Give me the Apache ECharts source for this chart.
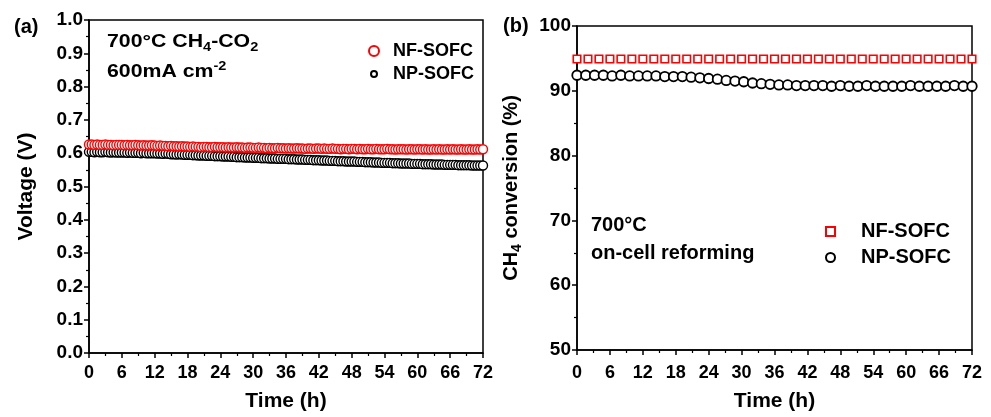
<!DOCTYPE html>
<html><head><meta charset="utf-8">
<script src="https://cdn.jsdelivr.net/npm/echarts@6/dist/echarts.min.js"></script>
<style>html,body{margin:0;padding:0;background:#fff}#c{width:991px;height:417px}</style>
</head><body><div id="c"></div>
<script>
// ---------- data ----------
const seriesNames = ['NF-SOFC', 'NP-SOFC'];
const voltageStepH = 0.5; // sampling interval of panel (a), hours
const voltageNF = [
0.626,0.626,0.625,0.626,0.625,0.625,0.626,0.625,0.625,0.624,0.625,0.625,
0.625,0.624,0.625,0.624,0.624,0.625,0.624,0.623,0.624,0.623,0.623,0.624,
0.623,0.622,0.623,0.622,0.622,0.621,0.622,0.621,0.621,0.620,0.621,0.620,
0.620,0.619,0.620,0.619,0.619,0.618,0.619,0.619,0.618,0.618,0.619,0.618,
0.618,0.618,0.617,0.618,0.617,0.617,0.618,0.617,0.617,0.616,0.617,0.617,
0.616,0.616,0.617,0.616,0.616,0.615,0.616,0.615,0.615,0.616,0.615,0.615,
0.614,0.615,0.614,0.614,0.615,0.614,0.614,0.613,0.614,0.614,0.613,0.614,
0.614,0.613,0.614,0.613,0.613,0.614,0.613,0.613,0.612,0.613,0.613,0.612,
0.613,0.613,0.612,0.613,0.612,0.612,0.613,0.612,0.612,0.613,0.612,0.612,
0.612,0.613,0.612,0.612,0.611,0.612,0.612,0.612,0.611,0.612,0.612,0.611,
0.612,0.612,0.611,0.612,0.611,0.611,0.612,0.611,0.612,0.611,0.611,0.612,
0.611,0.612,0.611,0.611,0.612,0.611,0.611,0.612,0.611,0.611,0.612,0.611,
0.612];
const voltageNP = [
0.604,0.604,0.603,0.604,0.603,0.603,0.604,0.603,0.602,0.603,0.602,0.602,
0.602,0.602,0.601,0.602,0.601,0.601,0.601,0.600,0.601,0.600,0.600,0.600,
0.600,0.599,0.599,0.598,0.599,0.598,0.597,0.597,0.596,0.597,0.596,0.595,
0.595,0.595,0.594,0.594,0.593,0.593,0.593,0.592,0.592,0.592,0.591,0.591,
0.591,0.590,0.590,0.590,0.589,0.589,0.588,0.588,0.588,0.587,0.587,0.587,
0.586,0.586,0.586,0.585,0.585,0.585,0.584,0.584,0.584,0.583,0.583,0.583,
0.583,0.582,0.582,0.582,0.581,0.581,0.581,0.580,0.580,0.580,0.579,0.579,
0.579,0.578,0.578,0.578,0.577,0.577,0.577,0.576,0.576,0.576,0.575,0.575,
0.575,0.575,0.574,0.574,0.574,0.573,0.573,0.573,0.572,0.572,0.572,0.571,
0.571,0.571,0.571,0.570,0.570,0.570,0.569,0.569,0.569,0.569,0.568,0.568,
0.568,0.568,0.567,0.567,0.567,0.567,0.566,0.566,0.566,0.566,0.565,0.565,
0.565,0.565,0.565,0.564,0.564,0.564,0.564,0.564,0.563,0.563,0.563,0.563,
0.563];
const convNFStepH = 2;   // panel (b) squares sampling interval, hours
const conversionNF = [
94.9,94.9,94.9,94.9,94.9,94.9,94.9,94.9,94.9,94.9,94.9,94.9,94.9,
94.9,94.9,94.9,94.9,94.9,94.9,94.9,94.9,94.9,94.9,94.9,94.9,94.9,
94.9,94.9,94.9,94.9,94.9,94.9,94.9,94.9,94.9,94.9,94.9];
const convNPStepH = 1.6; // panel (b) circles sampling interval, hours
const conversionNP = [
92.4,92.4,92.4,92.4,92.3,92.4,92.3,92.3,92.3,92.3,92.2,92.2,92.2,92.1,
92.0,91.9,91.8,91.6,91.5,91.4,91.2,91.1,91.0,90.9,90.9,90.8,90.8,90.8,
90.8,90.7,90.8,90.7,90.7,90.8,90.7,90.7,90.7,90.7,90.8,90.7,90.7,90.7,
90.7,90.8,90.7,90.7];

// ---------- build ----------
const F = "'Liberation Sans', Arial, Helvetica, sans-serif";
const pairs = (arr, step) => arr.map((v, i) => [+(i * step).toFixed(2), v]);

function xAxisFor(grid, labelMargin, nameGap) {
  return {
    type: 'value', gridIndex: grid, min: 0, max: 72, interval: 6,
    axisLine: { lineStyle: { color: '#000', width: 1.5 } },
    axisTick: { show: true, length: 5, lineStyle: { color: '#000', width: 1.5 } },
    minorTick: { show: true, splitNumber: 2, length: 3, lineStyle: { color: '#000', width: 1.2 } },
    splitLine: { show: false },
    axisLabel: { color: '#000', fontFamily: F, fontWeight: 'bold', fontSize: 18, margin: labelMargin },
    name: 'Time (h)', nameLocation: 'middle', nameGap: nameGap,
    nameTextStyle: { color: '#000', fontFamily: F, fontWeight: 'bold', fontSize: 21 }
  };
}
const legendText = (size, pad) => ({ color: '#000', fontFamily: F, fontWeight: 'bold', fontSize: size, lineHeight: 20, padding: [0, 0, 0, pad] });

const chart = echarts.init(document.getElementById('c'), null, { renderer: 'canvas' });
const option = {
  animation: false,
  backgroundColor: '#fff',
  grid: [
    { left: 89, right: 508, top: 20, bottom: 64, show: true, borderColor: '#000', borderWidth: 1.5, backgroundColor: 'transparent' },
    { left: 577, right: 19, top: 26, bottom: 57, show: true, borderColor: '#000', borderWidth: 1.5, backgroundColor: 'transparent' }
  ],
  xAxis: [xAxisFor(0, 11, 38), xAxisFor(1, 14, 41)],
  yAxis: [
    {
      type: 'value', gridIndex: 0, min: 0, max: 1, interval: 0.1,
      axisLine: { show: true, lineStyle: { color: '#000', width: 1.5 } },
      axisTick: { show: true, length: 5, lineStyle: { color: '#000', width: 1.5 } },
      minorTick: { show: true, splitNumber: 2, length: 3, lineStyle: { color: '#000', width: 1.2 } },
      splitLine: { show: false },
      axisLabel: { color: '#000', fontFamily: F, fontWeight: 'bold', fontSize: 19, margin: 6, formatter: v => v.toFixed(1) },
      name: 'Voltage (V)', nameLocation: 'middle', nameGap: 52,
      nameTextStyle: { color: '#000', fontFamily: F, fontWeight: 'bold', fontSize: 21 }
    },
    {
      type: 'value', gridIndex: 1, min: 50, max: 100, interval: 10,
      axisLine: { show: true, lineStyle: { color: '#000', width: 1.5 } },
      axisTick: { show: true, length: 5, lineStyle: { color: '#000', width: 1.5 } },
      minorTick: { show: true, splitNumber: 2, length: 3, lineStyle: { color: '#000', width: 1.2 } },
      splitLine: { show: false },
      axisLabel: { color: '#000', fontFamily: F, fontWeight: 'bold', fontSize: 19, margin: 6 },
      name: 'CH{s|4} conversion (%)', nameLocation: 'middle', nameGap: 53,
      nameTextStyle: { color: '#000', fontFamily: F, fontWeight: 'bold', fontSize: 20,
        rich: { s: { fontFamily: F, fontWeight: 'bold', fontSize: 14, color: '#000', verticalAlign: 'bottom', padding: [12, 0, 0, 0] } } }
    }
  ],
  legend: [
    { data: [seriesNames[0]], orient: 'vertical', left: 363, top: 36, itemWidth: 10, itemHeight: 10,
      selectedMode: false, textStyle: legendText(18, 9) },
    { data: [seriesNames[1]], orient: 'vertical', left: 365, top: 59, itemWidth: 6, itemHeight: 6,
      selectedMode: false, textStyle: legendText(18, 11) },
    { data: seriesNames.map(n => n + ' '), orient: 'vertical', left: 820, top: 216, itemWidth: 9, itemHeight: 9, itemGap: 5,
      selectedMode: false, formatter: n => n.trim(),
      textStyle: { color: '#000', fontFamily: F, fontWeight: 'bold', fontSize: 20, lineHeight: 21, padding: [0, 0, 0, 21] } }
  ],
  series: [
    { name: seriesNames[1], type: 'scatter', xAxisIndex: 0, yAxisIndex: 0, data: pairs(voltageNP, voltageStepH),
      symbol: 'circle', symbolSize: 9, itemStyle: { color: '#fff', borderColor: '#000', borderWidth: 1.4, opacity: 1 } },
    { name: seriesNames[0], type: 'scatter', xAxisIndex: 0, yAxisIndex: 0, data: pairs(voltageNF, voltageStepH),
      symbol: 'circle', symbolSize: 9, itemStyle: { color: '#fff', borderColor: '#ff0000', borderWidth: 1.4, opacity: 1 } },
    { name: seriesNames[0] + ' ', type: 'scatter', xAxisIndex: 1, yAxisIndex: 1, data: pairs(conversionNF, convNFStepH),
      symbol: 'rect', symbolSize: 7.5, itemStyle: { color: '#fff', borderColor: '#ff0000', borderWidth: 1.6, opacity: 1 } },
    { name: seriesNames[1] + ' ', type: 'scatter', xAxisIndex: 1, yAxisIndex: 1, data: pairs(conversionNP, convNPStepH),
      symbol: 'circle', symbolSize: 9.5, itemStyle: { color: '#fff', borderColor: '#000', borderWidth: 1.8, opacity: 1 } }
  ],
  graphic: [
    { type: 'text', left: 14, top: 17, style: { text: '(a)', fontFamily: F, fontWeight: 'bold', fontSize: 20, fill: '#000' } },
    { type: 'text', left: 503, top: 16, style: { text: '(b)', fontFamily: F, fontWeight: 'bold', fontSize: 20, fill: '#000' } },
    { type: 'text', x: 107, y: 29, scaleX: 1.12, style: { text: '700°C CH{s|4}-CO{s|2}', fontFamily: F, fontWeight: 'bold', fontSize: 19, fill: '#000',
        rich: { s: { fontFamily: F, fontWeight: 'bold', fontSize: 13, fill: '#000', verticalAlign: 'bottom', padding: [12, 0, 0, 0] } } } },
    { type: 'text', x: 107, y: 60, scaleX: 1.12, style: { text: '600mA cm{p|-2}', fontFamily: F, fontWeight: 'bold', fontSize: 19, fill: '#000',
        rich: { p: { fontFamily: F, fontWeight: 'bold', fontSize: 13, fill: '#000', verticalAlign: 'top', padding: [0, 0, 10, 0] } } } },
    { type: 'text', left: 591, top: 215, style: { text: '700°C', fontFamily: F, fontWeight: 'bold', fontSize: 20, fill: '#000' } },
    { type: 'text', left: 591, top: 243, style: { text: 'on-cell reforming', fontFamily: F, fontWeight: 'bold', fontSize: 20, fill: '#000' } }
  ]
};
chart.setOption(option);
</script>
</body></html>
